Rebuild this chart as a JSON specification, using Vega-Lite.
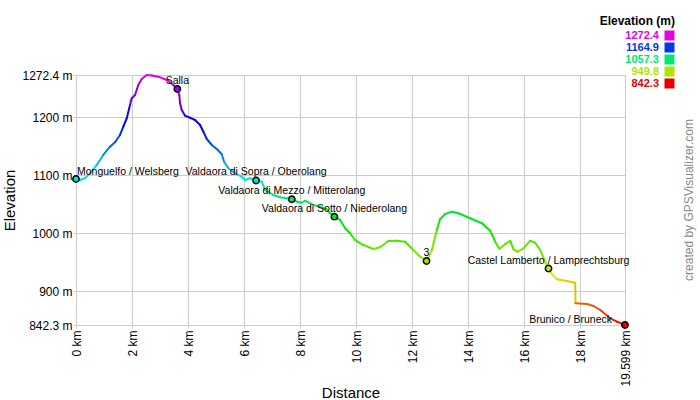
{
  "$schema": "https://vega.github.io/schema/vega-lite/v6.json",
  "width": 549,
  "height": 250,
  "autosize": {"type": "none"},
  "padding": {"left": 76, "top": 75, "right": 75, "bottom": 75},
  "background": "white",
  "config": {
    "view": {"stroke": null},
    "font": "Liberation Sans",
    "axis": {
      "gridColor": "#cccccc",
      "gridOpacity": 1,
      "gridWidth": 1,
      "domain": false,
      "tickColor": "#cccccc",
      "tickSize": 4,
      "labelColor": "#000000",
      "labelFontSize": 12,
      "titleColor": "#000000",
      "titleFontSize": 15,
      "titleFontWeight": "normal"
    }
  },
  "title": {
    "text": "created by GPSVisualizer.com",
    "orient": "right",
    "anchor": "middle",
    "angle": -90,
    "baseline": "middle",
    "fontSize": 12,
    "fontWeight": "normal",
    "color": "#888888",
    "frame": "group",
    "offset": 2
  },
  "datasets": {
    "profile": [
      {"d": 0, "e": 1093.5}, {"d": 0.143, "e": 1091.8}, {"d": 0.321, "e": 1094.7}, {"d": 0.5, "e": 1103.3},
      {"d": 0.739, "e": 1117.6}, {"d": 0.975, "e": 1134.8}, {"d": 1.214, "e": 1149.0}, {"d": 1.393, "e": 1156.6},
      {"d": 1.571, "e": 1169.2}, {"d": 1.689, "e": 1183.5}, {"d": 1.811, "e": 1197.9}, {"d": 1.929, "e": 1220.8},
      {"d": 1.989, "e": 1232.3}, {"d": 2.107, "e": 1238.0}, {"d": 2.225, "e": 1255.2}, {"d": 2.346, "e": 1265.5},
      {"d": 2.525, "e": 1272.4}, {"d": 2.704, "e": 1271.5}, {"d": 2.939, "e": 1269.5}, {"d": 3.239, "e": 1263.8},
      {"d": 3.475, "e": 1255.2}, {"d": 3.618, "e": 1248.3}, {"d": 3.689, "e": 1238.0}, {"d": 3.714, "e": 1223.7},
      {"d": 3.775, "e": 1212.2}, {"d": 3.893, "e": 1202.4}, {"d": 4.071, "e": 1198.9}, {"d": 4.25, "e": 1195.0},
      {"d": 4.429, "e": 1186.4}, {"d": 4.546, "e": 1174.9}, {"d": 4.668, "e": 1162.3}, {"d": 4.846, "e": 1152.0},
      {"d": 5.025, "e": 1145.1}, {"d": 5.204, "e": 1136.0}, {"d": 5.286, "e": 1123.2}, {"d": 5.439, "e": 1111.9},
      {"d": 5.679, "e": 1103.3}, {"d": 5.918, "e": 1097.4}, {"d": 6.036, "e": 1091.8}, {"d": 6.214, "e": 1094.7},
      {"d": 6.429, "e": 1090.9}, {"d": 6.632, "e": 1088.8}, {"d": 6.75, "e": 1074.6}, {"d": 7.046, "e": 1066.0},
      {"d": 7.286, "e": 1062.0}, {"d": 7.525, "e": 1060.3}, {"d": 7.704, "e": 1058.6}, {"d": 7.882, "e": 1054.4},
      {"d": 8.061, "e": 1052.7}, {"d": 8.179, "e": 1056.1}, {"d": 8.475, "e": 1048.7}, {"d": 8.714, "e": 1045.8},
      {"d": 8.954, "e": 1041.3}, {"d": 9.071, "e": 1034.5}, {"d": 9.225, "e": 1028.6}, {"d": 9.429, "e": 1022.9},
      {"d": 9.607, "e": 1008.7}, {"d": 9.786, "e": 1000.1}, {"d": 9.964, "e": 988.5}, {"d": 10.261, "e": 979.9},
      {"d": 10.618, "e": 973.1}, {"d": 10.857, "e": 976.0}, {"d": 11.154, "e": 986.8}, {"d": 11.454, "e": 987.3},
      {"d": 11.75, "e": 985.6}, {"d": 12.046, "e": 971.3}, {"d": 12.286, "e": 959.8}, {"d": 12.514, "e": 952.4},
      {"d": 12.704, "e": 971.3}, {"d": 12.882, "e": 1005.7}, {"d": 13.0, "e": 1024.7}, {"d": 13.179, "e": 1033.3},
      {"d": 13.418, "e": 1037.2}, {"d": 13.654, "e": 1034.5}, {"d": 14.071, "e": 1025.9}, {"d": 14.489, "e": 1017.3},
      {"d": 14.786, "e": 1004.5}, {"d": 14.964, "e": 985.6}, {"d": 15.118, "e": 973.1}, {"d": 15.321, "e": 981.7},
      {"d": 15.5, "e": 987.3}, {"d": 15.618, "e": 972.5}, {"d": 15.761, "e": 968.4}, {"d": 15.975, "e": 974.3},
      {"d": 16.214, "e": 987.3}, {"d": 16.393, "e": 983.9}, {"d": 16.571, "e": 971.3}, {"d": 16.75, "e": 951.2},
      {"d": 16.868, "e": 939.5}, {"d": 16.989, "e": 930.0}, {"d": 17.168, "e": 920.9}, {"d": 17.525, "e": 918.0},
      {"d": 17.821, "e": 915.1}, {"d": 17.832, "e": 879.6}, {"d": 18.239, "e": 878.4}, {"d": 18.475, "e": 875.0},
      {"d": 18.714, "e": 868.1}, {"d": 19.071, "e": 853.8}, {"d": 19.311, "e": 848.0}, {"d": 19.599, "e": 842.3}
    ],
    "wpts": [
      {"d": 0, "e": 1093.5, "name": "Monguelfo / Welsberg"},
      {"d": 3.618, "e": 1248.3, "name": "Salla"},
      {"d": 6.429, "e": 1090.9, "name": "Valdaora di Sopra / Oberolang"},
      {"d": 7.704, "e": 1058.6, "name": "Valdaora di Mezzo / Mitterolang"},
      {"d": 9.225, "e": 1028.6, "name": "Valdaora di Sotto / Niederolang"},
      {"d": 12.514, "e": 952.4, "name": "3"},
      {"d": 16.868, "e": 939.5, "name": "Castel Lamberto / Lamprechtsburg"},
      {"d": 19.599, "e": 842.3, "name": "Brunico / Bruneck"}
    ]
  },
  "layer": [
    {
      "data": {"name": "profile"},
      "transform": [
        {"window": [{"op": "lead", "field": "d", "as": "d2"}, {"op": "lead", "field": "e", "as": "e2"}], "sort": [{"field": "d", "order": "ascending"}]},
        {"filter": "datum.d2 != null"}
      ],
      "mark": {"type": "rule", "strokeWidth": 2, "strokeCap": "round"},
      "encoding": {
        "x": {
          "field": "d", "type": "quantitative",
          "scale": {"domain": [0, 19.599], "nice": false, "zero": false},
          "axis": {
            "title": "Distance",
            "values": [0, 2, 4, 6, 8, 10, 12, 14, 16, 18, 19.599],
            "labelExpr": "datum.value + ' km'",
            "labelAngle": -90,
            "labelAlign": "right",
            "labelBaseline": "middle",
            "labelPadding": 2,
            "tickSize": 3,
            "labelFlush": false,
            "labelOverlap": false,
            "titleY": 72,
            "titleBaseline": "alphabetic"
          }
        },
        "y": {
          "field": "e", "type": "quantitative",
          "scale": {"domain": [842.3, 1272.4], "nice": false, "zero": false},
          "axis": {
            "title": "Elevation",
            "values": [842.3, 900, 1000, 1100, 1200, 1272.4],
            "labelExpr": "datum.value + ' m'",
            "labelPadding": 1,
            "tickSize": 3,
            "labelFlush": false,
            "labelOverlap": false,
            "titleX": -59,
            "titleFontSize": 15
          }
        },
        "x2": {"field": "d2"},
        "y2": {"field": "e2"},
        "color": {
          "field": "e", "type": "quantitative",
          "scale": {
            "domain": [842.3, 949.8, 1057.3, 1164.9, 1272.4],
            "range": ["#e60000", "#ace600", "#00e673", "#0039e6", "#e600e6"],
            "interpolate": "hsl"
          },
          "legend": {
            "type": "symbol",
            "title": "Elevation (m)",
            "values": [1272.4, 1164.9, 1057.3, 949.8, 842.3],
            "format": ".1f",
            "orient": "none",
            "legendX": 524,
            "legendY": -59,
            "direction": "vertical",
            "titleFontSize": 12,
            "titleFontWeight": "bold",
            "titleColor": "#000000",
            "titleAlign": "right",
            "titleAnchor": "end",
            "titlePadding": 2,
            "labelFontSize": 11,
            "labelFontWeight": "bold",
            "labelAlign": "right",
            "labelOffset": -16,
            "symbolType": "square",
            "symbolSize": 100,
            "symbolStrokeWidth": 0,
            "rowPadding": 0,
            "encode": {
              "labels": {"update": {"fill": {"scale": "color", "field": "value"}}},
              "symbols": {"update": {"fill": {"scale": "color", "field": "value"}, "shape": {"value": "square"}, "strokeWidth": {"value": 0}, "opacity": {"value": 1}}}
            }
          }
        }
      }
    },
    {
      "data": {"name": "wpts"},
      "mark": {"type": "point", "filled": true, "size": 40, "stroke": "#000000", "strokeWidth": 1.5, "opacity": 1},
      "encoding": {
        "x": {"field": "d", "type": "quantitative"},
        "y": {"field": "e", "type": "quantitative"},
        "color": {"field": "e", "type": "quantitative"}
      }
    },
    {
      "data": {"name": "wpts"},
      "transform": [{"filter": "datum.d > 0 && datum.d < 19.5"}],
      "mark": {"type": "text", "align": "center", "baseline": "alphabetic", "dy": -5, "fontSize": 10.5, "color": "#000000"},
      "encoding": {
        "x": {"field": "d", "type": "quantitative"},
        "y": {"field": "e", "type": "quantitative"},
        "text": {"field": "name"}
      }
    },
    {
      "data": {"name": "wpts"},
      "transform": [{"filter": "datum.d == 0"}],
      "mark": {"type": "text", "align": "left", "baseline": "alphabetic", "dx": 1, "dy": -4, "fontSize": 10.5, "color": "#000000"},
      "encoding": {
        "x": {"field": "d", "type": "quantitative"},
        "y": {"field": "e", "type": "quantitative"},
        "text": {"field": "name"}
      }
    },
    {
      "data": {"name": "wpts"},
      "transform": [{"filter": "datum.d > 19.5"}],
      "mark": {"type": "text", "align": "right", "baseline": "alphabetic", "dx": -13, "dy": -2, "fontSize": 10.5, "color": "#000000"},
      "encoding": {
        "x": {"field": "d", "type": "quantitative"},
        "y": {"field": "e", "type": "quantitative"},
        "text": {"field": "name"}
      }
    }
  ]
}
